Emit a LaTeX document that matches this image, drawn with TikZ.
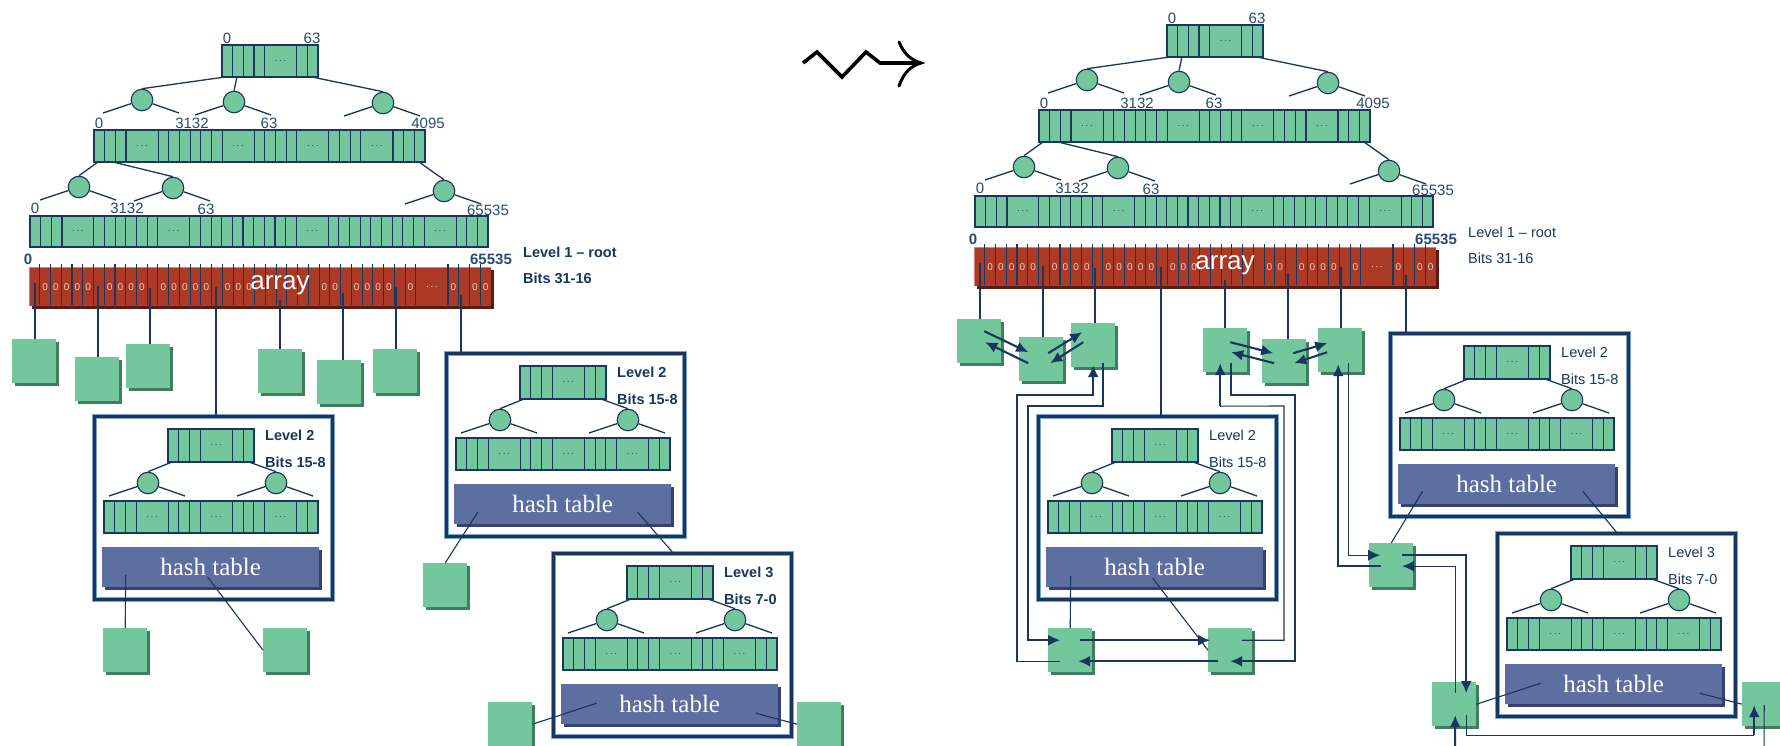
\documentclass[tikz,border=0pt]{standalone}
\usepackage{fontspec}
\setmainfont{Liberation Serif}
\setsansfont{Liberation Sans}
\usetikzlibrary{arrows.meta,positioning,calc,shadows}
\definecolor{leaf}{HTML}{74C69D}
\definecolor{leafdark}{HTML}{3F7F5E}
\definecolor{ink}{HTML}{17375E}
\definecolor{numtext}{HTML}{2A4A70}
\definecolor{brick}{HTML}{AA3925}
\definecolor{brickdark}{HTML}{5C1B10}
\definecolor{bricklight}{HTML}{D8806C}
\definecolor{zerotext}{HTML}{E6CFC8}
\definecolor{slate}{HTML}{5D6EA0}
\definecolor{slatedark}{HTML}{36426B}
\definecolor{framelight}{HTML}{7FA3C6}

\tikzset{
  rowbox/.style={inner sep=0pt,outer sep=0pt,anchor=north west},
  bit/.style={fill=leaf,draw=ink,line width=1.1pt},
  elide/.style={font=\fontsize{10}{10}\selectfont,text=ink,inner sep=0pt},
  splitnode/.style={circle,fill=leaf,draw=ink,line width=1.1pt,minimum size=21.5pt,inner sep=0pt},
  branch/.style={ink,line width=1.3pt},
  ptr/.style={ink,line width=1.2pt},
  wire/.style={ink,line width=1.1pt},
  route/.style={ink,line width=1.1pt},
  routedart/.style={route,-{Latex[length=12pt,width=11pt]}},
  hop/.style={ink,line width=2.1pt,-{Latex[length=12pt,width=11pt]}},
  num/.style={font=\sffamily\fontsize{15}{15}\selectfont,text=numtext,inner sep=0pt},
  numb/.style={num,font=\sffamily\bfseries\fontsize{15}{15}\selectfont},
  zero/.style={font=\sffamily\fontsize{10}{10}\selectfont,text=zerotext,inner sep=0pt},
  arraylabel/.style={font=\sffamily\fontsize{26}{26}\selectfont,text=white,inner sep=0pt},
  tagreg/.style={font=\sffamily\fontsize{14.5}{14.5}\selectfont,text=ink,inner sep=0pt,anchor=west},
  tagbold/.style={tagreg,font=\sffamily\bfseries\fontsize{14.5}{14.5}\selectfont},
  hashbox/.style={fill=slate,text=white,font=\rmfamily\fontsize{25}{25}\selectfont,
    minimum width=217pt,minimum height=40pt,inner sep=0pt,anchor=north west,
    drop shadow={shadow xshift=2.5pt,shadow yshift=-2.5pt,fill=slatedark,opacity=1}},
  leafbox/.style={fill=leaf,minimum size=44pt,inner sep=0pt,anchor=north west,
    drop shadow={shadow xshift=2.5pt,shadow yshift=-2.5pt,fill=leafdark,opacity=1}},
  lvlframe/.style={draw=ink,line width=2.6pt,minimum width=238pt,minimum height=183pt,
    inner sep=0pt,anchor=north west,preaction={draw=framelight,line width=4.4pt}}
}

% a row of slots: name, x, y, width, height, units, slot widths (3 = elided part)
\newcommand{\slotrow}[7]{%
  \node[rowbox,minimum width=#4pt,minimum height=#5pt] (#1) at (#2,#3) {};
  \pgfmathsetmacro{\unitw}{#4/#6}
  \foreach \w [remember=\nx as \px (initially 0),evaluate=\w as \nx using \px+\w] in {#7}{
    \draw[bit] (#2+\px*\unitw,#3) rectangle (#2+\nx*\unitw,#3+#5);
    \ifnum\w=3 \node[elide] at (#2+\px*\unitw+1.5*\unitw,#3+#5/2) {$\cdots$};\fi}}

% level 2/3 box: name, x, y, level, bits, label style
\newcommand{\levelbox}[6]{%
  \node[lvlframe] (#1) at (#2,#3) {};
  \begin{scope}[shift={(#2,#3)}]
    \slotrow{#1top}{75}{14}{86}{33}{8}{1,1,1,3,1,1}
    \slotrow{#1bot}{11}{86}{214}{32}{20}{1,1,1,3,1,1,1,3,1,1,1,3,1,1}
    \node[splitnode] (#1k1) at (55,68) {};
    \node[splitnode] (#1k2) at (183,68) {};
    \draw[branch] ([xshift=4pt]#1top.south west) -- (#1k1.north);
    \draw[branch] ([xshift=81pt]#1top.south west) -- (#1k2.north);
    \foreach \k in {#1k1,#1k2}{
      \draw[branch] (\k) -- ++(-39,13);
      \draw[branch] (\k) -- ++(37,13);}
    \node[#6] at (172,20) {#4};
    \node[#6] at (172,47) {#5};
    \node[hashbox] (#1h) at (9,132) {hash table};
  \end{scope}}

% root level with its tree and array: prefix, label style
\newcommand{\rootlevel}[2]{%
  \slotrow{#1t0}{222}{45}{96}{32}{9}{1,1,1,1,3,1,1}
  \slotrow{#1t1}{94}{130}{331}{32}{31}{1,1,1,3,1,1,1,1,1,1,3,1,1,1,1,3,1,1,1,3,1,1,1}
  \slotrow{#1t2}{30}{216}{458}{31}{43}{1,1,1,3,1,1,1,1,1,1,3,1,1,1,1,1,1,1,1,1,1,3,1,1,1,1,1,1,1,1,1,3,1,1,1}
  \node[splitnode] (#1a1) at (142,100) {};
  \node[splitnode] (#1a2) at (234,102) {};
  \node[splitnode] (#1a3) at (383,103) {};
  \draw[branch] ([xshift=3pt]#1t0.south west) -- (#1a1.north);
  \draw[branch] ([xshift=15pt]#1t0.south west) -- (#1a2.north);
  \draw[branch] ([xshift=90pt]#1t0.south west) -- (#1a3.north);
  \node[splitnode] (#1b1) at (79,187) {};
  \node[splitnode] (#1b2) at (173,188) {};
  \node[splitnode] (#1b3) at (444,191) {};
  \draw[branch] ([xshift=4pt]#1t1.south west) -- (#1b1.north);
  \draw[branch] ([xshift=19pt]#1t1.south west) -- (#1b2.north);
  \draw[branch] ([xshift=325pt]#1t1.south west) -- (#1b3.north);
  \foreach \k in {#1a1,#1a2,#1a3,#1b1,#1b2,#1b3}{
    \draw[branch] (\k) -- ++(-39,13);
    \draw[branch] (\k) -- ++(37,13);}
  \node[num] at (227,38) {0};
  \node[num] at (312,38) {63};
  \node[num] at (99,123) {0};
  \node[num] at (192,123) {3132};
  \node[num] at (269,123) {63};
  \node[num] at (428,123) {4095};
  \node[num] at (35,208) {0};
  \node[num] at (127,208) {3132};
  \node[num] at (206,209) {63};
  \node[num] at (488,210) {65535};
  % the array
  \fill[brickdark] (32,270) rectangle (494,309);
  \fill[brick] (29,267) rectangle (491,306);
  \draw[bricklight,line width=1.2pt] (29.6,306) -- (29.6,267.6) -- (491,267.6);
  \node[rowbox,minimum width=462pt,minimum height=39pt] (#1arr) at (29,267) {};
  \pgfmathsetmacro{\slot}{462/43}
  \foreach \j in {1,...,36,39,40,41,42}
    \draw[ink,line width=1.1pt] (29+\j*\slot,264) -- (29+\j*\slot,305);
  \foreach \k in {1,2,3,4,5,7,8,9,10,12,13,14,15,16,18,19,20,27,28,30,31,32,33,35,39,41,42}
    \node[zero] at (29+\k*\slot+\slot/2,287) {0};
  \node[zero,text=white] at (29+37.5*\slot,287) {$\cdots$};
  \node[arraylabel] at (280,285) {array};
  \node[numb] at (28,259) {0};
  \node[numb] at (491,259) {65535};
  \node[#2] at (523,252) {Level 1 – root};
  \node[#2] at (523,278) {Bits 31-16};
  \coordinate (#1p0) at (35,283);
  \coordinate (#1p1) at (98,286);
  \coordinate (#1p2) at (150,288);
  \coordinate (#1p3) at (216,287);
  \coordinate (#1p4) at (280,300);
  \coordinate (#1p5) at (343,293);
  \coordinate (#1p6) at (396,287);
  \coordinate (#1p7) at (461,295);}

\begin{document}
\begin{tikzpicture}[x=1pt,y=-1pt]
\fill[white] (0,0) rectangle (1780,746);
\useasboundingbox (0,0) rectangle (1780,746);

% ---- before ----
\rootlevel{l}{tagbold}

\node[leafbox] (ls1) at (12,339) {};
\node[leafbox] (ls2) at (75,357) {};
\node[leafbox] (ls3) at (126,344) {};
\node[leafbox] (ls4) at (258,349) {};
\node[leafbox] (ls5) at (317,360) {};
\node[leafbox] (ls6) at (373,349) {};
\node[leafbox] (ls7) at (103,628) {};
\node[leafbox] (ls8) at (263,628) {};
\node[leafbox] (ls9) at (423,563) {};
\node[leafbox] (ls10) at (488,702) {};
\node[leafbox] (ls11) at (797,702) {};

\levelbox{lvla}{93}{415}{Level 2}{Bits 15-8}{tagbold}
\levelbox{lvlb}{445}{352}{Level 2}{Bits 15-8}{tagbold}
\levelbox{lvlc}{552}{552}{Level 3}{Bits 7-0}{tagbold}

\foreach \i/\t in {0/ls1,1/ls2,2/ls3,3/lvla,4/ls4,5/ls5,6/ls6,7/lvlb}
  \draw[ptr] (lp\i) -- (lp\i |- \t.north);

\draw[wire] ([shift={(-85,8)}]lvlah.center) -- (ls7.north);
\draw[wire] ([shift={(-3,10)}]lvlah.center) -- (ls8.west);
\draw[wire] ([shift={(-85,8)}]lvlbh.center) -- (ls9.north);
\draw[wire] ([shift={(75,8)}]lvlbh.center) -- (lvlc.north);
\draw[wire] ([shift={(-73,-1)}]lvlch.center) -- (ls10.east);
\draw[wire] ([shift={(86,9)}]lvlch.center) -- (ls11.west);

% ---- leads to ----
\draw[line width=3.6pt,line join=miter] (803,63) -- (817,52) -- (842,77) -- (866,52) -- (880,63) -- (917,63);
\draw[line width=3pt,line cap=round] (899,42) .. controls (904,54) and (911,60) .. (921,63)
  .. controls (911,66) and (904,72) .. (899,86);

% ---- after ----
\begin{scope}[shift={(945,-20)}]
\rootlevel{r}{tagreg}
\end{scope}

\node[leafbox] (rA) at (957,319) {};
\node[leafbox] (rB) at (1019,337) {};
\node[leafbox] (rC) at (1071,323) {};
\node[leafbox] (rD) at (1203,328) {};
\node[leafbox] (rE) at (1262,339) {};
\node[leafbox] (rF) at (1318,328) {};
\node[leafbox] (rG) at (1048,628) {};
\node[leafbox] (rH) at (1208,628) {};
\node[leafbox] (rI) at (1369,543) {};
\node[leafbox] (rJ) at (1432,682) {};
\node[leafbox] (rK) at (1742,682) {};

\levelbox{lvld}{1037}{415}{Level 2}{Bits 15-8}{tagreg}
\levelbox{lvle}{1389}{332}{Level 2}{Bits 15-8}{tagreg}
\levelbox{lvlf}{1496}{532}{Level 3}{Bits 7-0}{tagreg}

\foreach \i/\t in {0/rA,1/rB,2/rC,3/lvld,4/rD,5/rE,6/rF,7/lvle}
  \draw[ptr] (rp\i) -- (rp\i |- \t.north);

\draw[wire] ([shift={(-84,9)}]lvldh.center) -- (rG.north);
\draw[wire] ([shift={(-2,11)}]lvldh.center) -- (rH.west);
\draw[wire] ([shift={(-84,7)}]lvleh.center) -- (rI.north);
\draw[wire] ([shift={(76,7)}]lvleh.center) -- (lvlf.north);
\draw[wire] ([shift={(-73,-1)}]lvlfh.center) -- (rJ.east);
\draw[wire] ([shift={(86,9)}]lvlfh.center) -- (rK.west);

% links between neighbours
\draw[hop] ([shift={(5,-10)}]rA.center) -- ([shift={(-13,-7)}]rB.center);
\draw[hop] ([shift={(-13,4)}]rB.center) -- ([shift={(6,1)}]rA.center);
\draw[hop] ([shift={(7,-6)}]rB.center) -- ([shift={(-11,-13)}]rC.center);
\draw[hop] ([shift={(-10,-3)}]rC.center) -- ([shift={(9,4)}]rB.center);
\draw[hop] ([shift={(5,-8)}]rD.center) -- ([shift={(-11,-8)}]rE.center);
\draw[hop] ([shift={(-10,2)}]rE.center) -- ([shift={(6,2)}]rD.center);
\draw[hop] ([shift={(9,-8)}]rE.center) -- ([shift={(-13,-7)}]rF.center);
\draw[hop] ([shift={(-13,2)}]rF.center) -- ([shift={(10,2)}]rE.center);

\draw[route] ([shift={(-10,11)}]rG.center) -| (1017,395) -| ([shift={(0,50)}]rC.center);
\draw[hop] ([shift={(0,50)}]rC.center) -- ([shift={(0,20)}]rC.center);
\draw[hop] ([shift={(10,18)}]rC.center) |- (1028,406) |- ([shift={(-10,-10)}]rG.center);
\draw[hop] ([shift={(10,-10)}]rG.center) -- ([shift={(-20,-10)}]rH.center);
\draw[hop] ([shift={(-12,11)}]rH.center) -- ([shift={(8,11)}]rG.center);
\draw[route] ([shift={(12,-10)}]rH.center) -| (1284,406) -- ([shift={(-5,56)}]rD.center);
\draw[hop] ([shift={(-5,56)}]rD.center) -- ([shift={(-5,13)}]rD.center);
\draw[hop] ([shift={(6,13)}]rD.center) |- (1295,395) |- ([shift={(0,11)}]rH.center);

\draw[hop] ([shift={(-10,1)}]rI.center) -| ([shift={(-2,14)}]rF.center);
\draw[routedart] ([shift={(8,13)}]rF.center) |- ([shift={(-11,-10)}]rI.center);
\draw[hop] ([shift={(11,-10)}]rI.center) -| ([shift={(12,-11)}]rJ.center);
\draw[routedart] ([shift={(1,-11)}]rJ.center) |- ([shift={(11,1)}]rI.center);

\coordinate (jin) at (1455,760);
\coordinate (kout) at (1764,760);
\draw[hop] (jin) -- ([shift={(1,11)}]rJ.center);
\draw[route] ([shift={(12,11)}]rJ.center) |- ([shift={(-10,31)}]rK.center);
\draw[hop] ([shift={(-10,31)}]rK.center) -- ([shift={(-10,1)}]rK.center);
\draw[route] ([shift={(0,1)}]rK.center) -- (kout);
\end{tikzpicture}
\end{document}
